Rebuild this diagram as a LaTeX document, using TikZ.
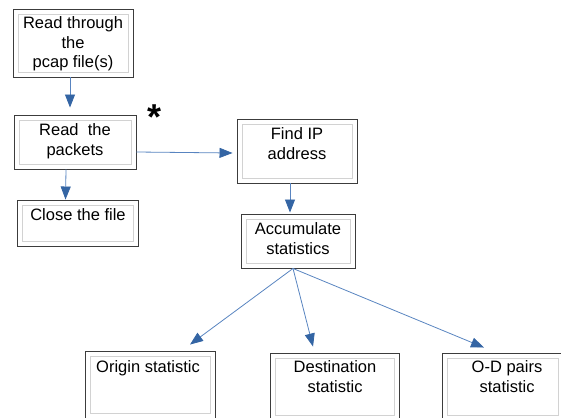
\documentclass[tikz,border=0pt]{standalone}
\usepackage{fontspec}
\setmainfont{Liberation Sans}
\usetikzlibrary{arrows.meta}
\definecolor{arrowblue}{RGB}{52,101,164}
\definecolor{linkblue}{RGB}{88,132,192}
\definecolor{boxline}{RGB}{60,60,60}
\definecolor{innerline}{RGB}{210,210,210}
\tikzset{
  boxnode/.style={draw=boxline, line width=0.95pt, rectangle, inner sep=0pt, fill=white,
    path picture={\draw[innerline, line width=0.9pt]
      ([shift={(5pt,-5pt)}]path picture bounding box.north west) rectangle
      ([shift={(-5pt,5pt)}]path picture bounding box.south east);}},
  label text/.style={inner sep=0pt, anchor=base, align=center,
    font=\fontsize{16.5}{19.5}\selectfont},
  arr/.style={draw=linkblue, line width=0.8pt, -{Triangle[length=13pt,width=10pt,color=arrowblue]}}
}
\begin{document}
\begin{tikzpicture}[x=1pt,y=-1pt]
\useasboundingbox (0,0) rectangle (561,417);
% boxes
\node[boxnode, minimum width=120pt, minimum height=68pt] (b1) at (73,43) {};
\node[boxnode, minimum width=122pt, minimum height=54pt] (b2) at (75,142) {};
\node[boxnode, minimum width=121pt, minimum height=46pt] (b3) at (77.5,223) {};
\node[boxnode, minimum width=120pt, minimum height=64pt] (b4) at (297,151) {};
\node[boxnode, minimum width=114pt, minimum height=54pt] (b5) at (298,241) {};
\node[boxnode, minimum width=130pt, minimum height=67pt] (b6) at (150,384.5) {};
\node[boxnode, minimum width=129pt, minimum height=67pt] (b7) at (334.5,386.5) {};
\node[boxnode, minimum width=121pt, minimum height=67pt] (b8) at (502.5,386.5) {};
% texts (anchor = baseline of last line)
\node[label text] (t1) at (73,68) {Read through\\the\\pcap file(s)};
\node[label text] (t2) at (75,155) {Read\ \ the\\packets};
\node[label text] (t3) at (78,220) {Close the file};
\node[label text] (t4) at (297,159) {Find IP\\address};
\node[label text] (t5) at (298,254) {Accumulate\\statistics};
\node[label text] (t6) at (148,372) {Origin statistic};
\node[label text] (t7) at (335,392) {Destination\\statistic};
\node[label text] (t8) at (507,392) {O-D pairs\\statistic};
% star
\node[inner sep=0pt, font=\fontsize{36}{36}\selectfont\bfseries] (star) at (155,117) {*};
% connectors
\draw[arr] ([xshift=-3pt]b1.south) -- ([xshift=-5pt,yshift=7pt]b2.north);
\draw[arr] ([xshift=-9pt]b2.south) -- ([xshift=-12pt]b3.north);
\draw[arr] ([yshift=-10pt]b2.east) -- ([xshift=-4pt,yshift=-2pt]b4.west);
\draw[arr] ([xshift=-7pt]b4.south) -- ([xshift=-8pt,yshift=1pt]b5.north);
\draw[arr] ([xshift=-5pt]b5.south) -- ([xshift=40pt,yshift=6pt]b6.north);
\draw[arr] ([xshift=-5pt]b5.south) -- ([xshift=-21.5pt,yshift=6pt]b7.north);
\draw[arr] ([xshift=-5pt]b5.south) -- ([xshift=-18.5pt,yshift=5pt]b8.north);
\end{tikzpicture}
\end{document}
